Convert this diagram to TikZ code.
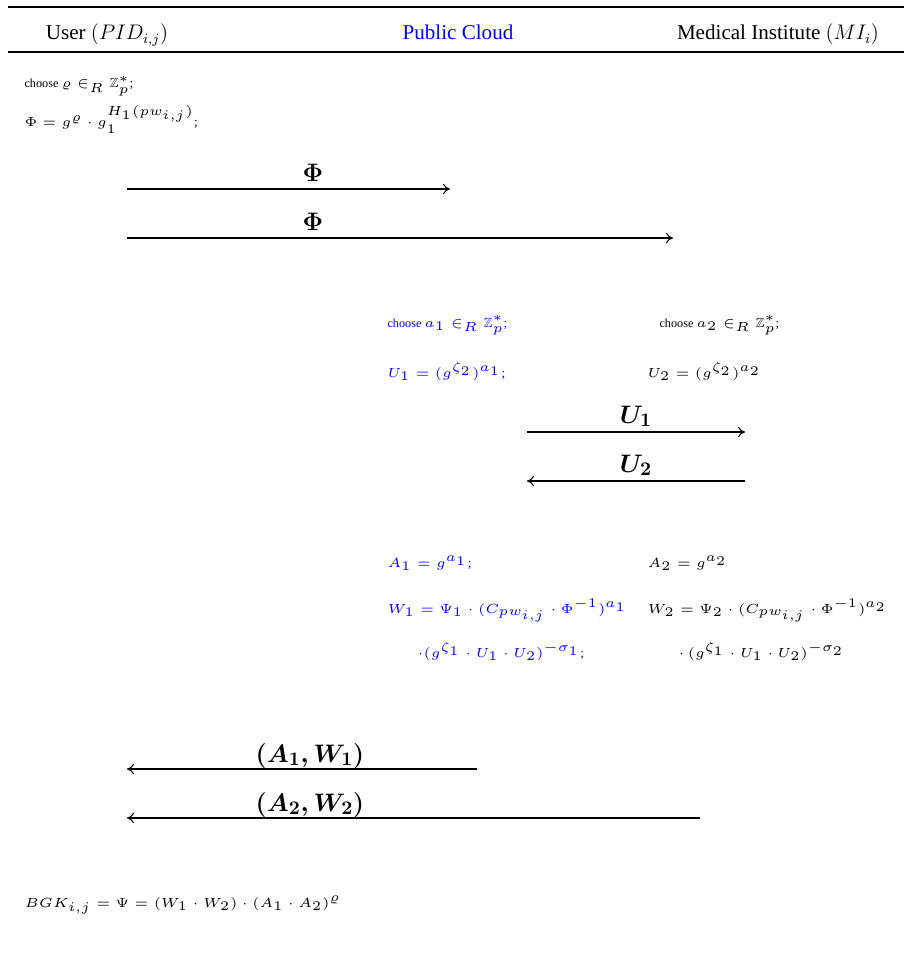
\documentclass[tikz,border=0pt]{standalone}
\usepackage{amsmath,amssymb}
\usepackage{fontspec}
\setmainfont{Liberation Serif}
\usetikzlibrary{arrows.meta,positioning}
\definecolor{cloudblue}{RGB}{0,0,255}
\DeclareMathSizes{14}{14}{11}{9}

\tikzset{
  hdr/.style={font=\fontsize{12}{14}\selectfont, anchor=base, inner sep=0pt},
  calc/.style={font=\fontsize{5}{6}\selectfont, scale=1.51, anchor=base west, inner sep=0pt},
  msg/.style={-{To[length=4pt,width=6pt]}, line width=0.6pt},
  msglbl/.style={font=\fontsize{14}{16}\selectfont\boldmath, anchor=base, inner sep=0pt},
}
\newcommand{\choosetxt}{{\fontsize{4.6}{5}\selectfont choose}}

\begin{document}
\begin{tikzpicture}[x=0.02cm,y=-0.02cm]
    \useasboundingbox (0,0) rectangle (904,963);
    % header rows
    \draw[line width=0.8pt] (8,7) -- (904,7);
    \draw[line width=0.8pt] (8,52) -- (904,52);
    \node[hdr] (user) at (107,40) {User $(PID_{i,j})$};
    \node[hdr,cloudblue] (cloud) at (458,40) {Public Cloud};
    \node[hdr] (mi) at (778,40) {Medical Institute $(MI_i)$};

    % user side
    \node[calc] (rho) at (24,88) {\choosetxt\ $\varrho \in_R \mathbb{Z}_p^*$;};
    \node[calc] (phi) at (24,127) {$\Phi = g^{\varrho} \cdot g_1^{H_1(pw_{i,j})}$;};

    \coordinate (phiu) at (127,189);
    \coordinate (phic) at (450,189);
    \coordinate (phiuu) at (127,238);
    \coordinate (phim) at (673,238);
    \draw[msg] (phiu) -- (phic);
    \draw[msg] (phiuu) -- (phim);
    \node[msglbl] (lphic) at (313,181) {$\Phi$};
    \node[msglbl] (lphim) at (313,230) {$\Phi$};

    % cloud and institute
    \node[calc,cloudblue] (a1) at (387,327) {\choosetxt\ $a_1 \in_R \mathbb{Z}_p^*$;};
    \node[calc] (a2) at (659,327) {\choosetxt\ $a_2 \in_R \mathbb{Z}_p^*$;};
    \node[calc,cloudblue] (u1) at (387,377) {$U_1 = (g^{\zeta_2})^{a_1}$;};
    \node[calc] (u2) at (647,377) {$U_2 = (g^{\zeta_2})^{a_2}$};

    \coordinate (uc) at (527,432);
    \coordinate (um) at (745,432);
    \coordinate (uuc) at (527,481);
    \coordinate (uum) at (745,481);
    \draw[msg] (uc) -- (um);
    \draw[msg] (uum) -- (uuc);
    \node[msglbl] (lu1) at (636,423) {$U_1$};
    \node[msglbl] (lu2) at (636,472) {$U_2$};

    \node[calc,cloudblue] (A1) at (387,567) {$A_1 = g^{a_1}$;};
    \node[calc] (A2) at (647,567) {$A_2 = g^{a_2}$};
    \node[calc,cloudblue] (W1) at (387,613) {$W_1 = \Psi_1 \cdot (C_{pw_{i,j}} \cdot \Phi^{-1})^{a_1}$};
    \node[calc] (W2) at (647,613) {$W_2 = \Psi_2 \cdot (C_{pw_{i,j}} \cdot \Phi^{-1})^{a_2}$};
    \node[calc,cloudblue] (W1b) at (417,657) {$\cdot (g^{\zeta_1} \cdot U_1 \cdot U_2)^{-\sigma_1}$;};
    \node[calc] (W2b) at (678,657) {$\cdot\, (g^{\zeta_1} \cdot U_1 \cdot U_2)^{-\sigma_2}$};

    \coordinate (awc) at (477,769);
    \coordinate (awu) at (127,769);
    \coordinate (awm) at (700,818);
    \coordinate (awuu) at (127,818);
    \draw[msg] (awc) -- (awu);
    \draw[msg] (awm) -- (awuu);
    \node[msglbl] (law1) at (310,762) {$(A_1, W_1)$};
    \node[msglbl] (law2) at (310,811) {$(A_2, W_2)$};

    % session key
    \node[calc] (bgk) at (24,907) {$BGK_{i,j} = \Psi = (W_1 \cdot W_2) \cdot (A_1 \cdot A_2)^{\varrho}$};
\end{tikzpicture}
\end{document}
